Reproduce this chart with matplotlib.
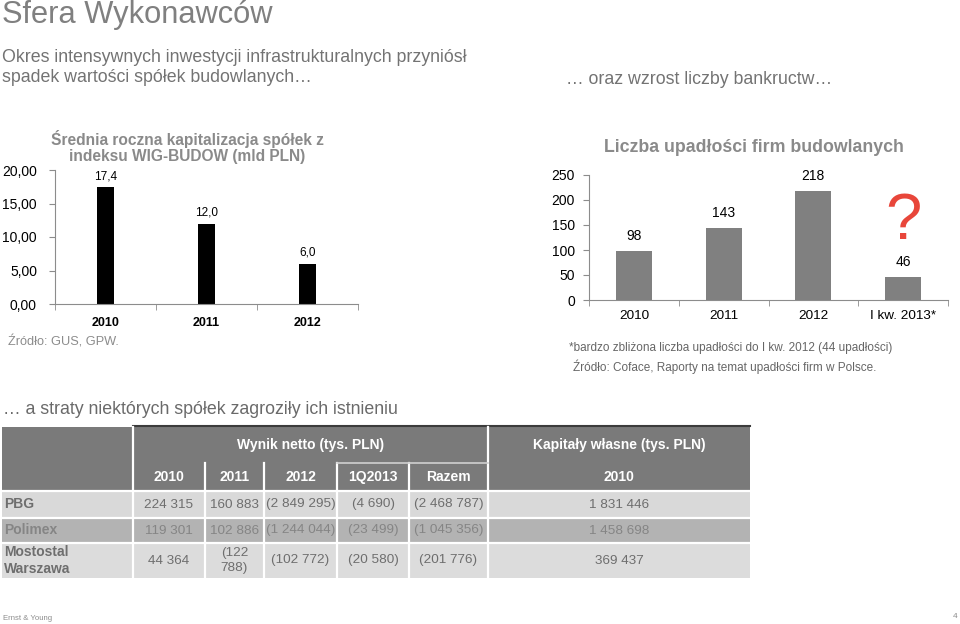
import matplotlib
matplotlib.use('Agg')
import matplotlib.pyplot as plt
from matplotlib.patches import Rectangle
from matplotlib.ticker import FuncFormatter

plt.rcParams['font.family'] = ['Liberation Sans', 'DejaVu Sans']

# --- data ---
cap_years = ['2010', '2011', '2012']
cap_values = [17.4, 12.0, 6.0]

bankr_periods = ['2010', '2011', '2012', 'I kw. 2013*']
bankr_values = [98, 143, 218, 46]

companies = ['PBG', 'Polimex', 'Mostostal\nWarszawa']
net_cols = ['2010', '2011', '2012', '1Q2013', 'Razem']
net_2010 = ['224 315', '119 301', '44 364']
net_2011 = ['160 883', '102 886', '(122\n788)']
net_2012 = ['(2 849 295)', '(1 244 044)', '(102 772)']
net_1q2013 = ['(4 690)', '(23 499)', '(20 580)']
net_total = ['(2 468 787)', '(1 045 356)', '(201 776)']
equity_2010 = ['1 831 446', '1 458 698', '369 437']

GRAY_TXT = '#737373'
TITLE_GRAY = '#8a8a8a'

fig = plt.figure(figsize=(9.6, 6.24), dpi=100)

# overlay in pixel coordinates for slide text and the table
bg = fig.add_axes([0, 0, 1, 1])
bg.set_xlim(0, 960)
bg.set_ylim(624, 0)
bg.axis('off')

bg.text(2, 15, 'Sfera Wykonawców', fontsize=22.2, color='#808080', va='center')
bg.text(2, 58, 'Okres intensywnych inwestycji infrastrukturalnych przyniósł',
        fontsize=12.8, color=GRAY_TXT, va='center')
bg.text(2, 77, 'spadek wartości spółek budowlanych…', fontsize=12.8,
        color=GRAY_TXT, va='center')
bg.text(566, 80, '… oraz wzrost liczby bankructw…', fontsize=12.8,
        color=GRAY_TXT, va='center')
bg.text(3, 410, '… a straty niektórych spółek zagroziły ich istnieniu',
        fontsize=12.8, color='#6a6a6a', va='center')

bg.text(187, 139, 'Średnia roczna kapitalizacja spółek z', fontsize=11.2,
        fontweight='bold', color=TITLE_GRAY, ha='center', va='center')
bg.text(187, 157, 'indeksu WIG-BUDOW (mld PLN)', fontsize=11.2,
        fontweight='bold', color=TITLE_GRAY, ha='center', va='center')
bg.text(8, 342, 'Źródło: GUS, GPW.', fontsize=9.2, color='#8c8c8c', va='center')

bg.text(754, 148, 'Liczba upadłości firm budowlanych', fontsize=12.8,
        fontweight='bold', color=TITLE_GRAY, ha='center', va='center')
bg.text(569, 348, '*bardzo zbliżona liczba upadłości do I kw. 2012 (44 upadłości)',
        fontsize=8.5, color='#666666', va='center')
bg.text(573, 367, 'Źródło: Coface, Raporty na temat upadłości firm w Polsce.',
        fontsize=8.5, color='#666666', va='center')

bg.text(3, 619, 'Ernst & Young', fontsize=5.6, color='#8c8c8c', va='center')
bg.text(957, 617, '4', fontsize=6, color='#8c8c8c', va='center', ha='right')

# --- table ---
col_edges = [2, 133, 205, 264, 337, 409, 488, 750]
row_edges = [491, 518, 543, 578]
row_colors = ['#d9d9d9', '#b3b3b3', '#dcdcdc']
hdr_top, hdr_mid = 427, 463

bg.add_patch(Rectangle((2, hdr_top), 748, row_edges[0] - hdr_top,
                       fc='#7a7a7a', ec='none'))
for i, c in enumerate(row_colors):
    bg.add_patch(Rectangle((2, row_edges[i]), 748,
                           row_edges[i + 1] - row_edges[i], fc=c, ec='none'))

bg.plot([133, 750], [426, 426], color='#3c3c3c', lw=1.5)
for x in (133, 488):
    bg.plot([x, x], [hdr_top, row_edges[-1]], color='white', lw=1.6)
for x in col_edges[2:6]:
    bg.plot([x, x], [hdr_mid, row_edges[-1]], color='white', lw=1.6)
bg.plot([337, 488], [hdr_mid, hdr_mid], color='#d0d0d0', lw=1.2)
for y in row_edges[:-1]:
    bg.plot([2, 750], [y, y], color='white', lw=1.6)

bg.text((133 + 488) / 2, 445, 'Wynik netto (tys. PLN)', fontsize=10,
        fontweight='bold', color='white', ha='center', va='center')
bg.text((488 + 750) / 2, 445, 'Kapitały własne (tys. PLN)', fontsize=10,
        fontweight='bold', color='white', ha='center', va='center')
for j, lab in enumerate(net_cols):
    bg.text((col_edges[j + 1] + col_edges[j + 2]) / 2, 477, lab, fontsize=10,
            fontweight='bold', color='white', ha='center', va='center')
bg.text((488 + 750) / 2, 477, '2010', fontsize=10, fontweight='bold',
        color='white', ha='center', va='center')

table_rows = list(zip(net_2010, net_2011, net_2012, net_1q2013, net_total,
                      equity_2010))
for i, (name, vals) in enumerate(zip(companies, table_rows)):
    yc = (row_edges[i] + row_edges[i + 1]) / 2
    txt_col = '#6e6e6e' if i != 1 else '#858585'
    bg.text(4, yc, name, fontsize=10, fontweight='bold', color=txt_col,
            va='center', linespacing=1.25)
    for j, v in enumerate(vals):
        xc = (col_edges[j + 1] + col_edges[j + 2]) / 2
        bg.text(xc, yc, v, fontsize=9.7, color=txt_col, ha='center',
                va='center', linespacing=1.3)

# --- left chart: capitalisation ---
ax1 = fig.add_axes([55 / 960, 320 / 624, 303 / 960, 134 / 624])
ax1.patch.set_alpha(0)
bars1 = ax1.bar(range(len(cap_years)), cap_values, width=0.16, color='black')
ax1.bar_label(bars1, labels=[f'{v:.1f}'.replace('.', ',') for v in cap_values],
              padding=3.5, fontsize=8.5)
ax1.set_xlim(-0.5, len(cap_years) - 0.5)
ax1.set_ylim(0, 20)
ax1.set_yticks([0, 5, 10, 15, 20])
ax1.yaxis.set_major_formatter(FuncFormatter(lambda v, p: f'{v:.2f}'.replace('.', ',')))
ax1.set_xticks(range(len(cap_years)))
ax1.set_xticklabels(cap_years, fontweight='bold', fontsize=9)
ax1.set_xticks([i + 0.5 for i in range(-1, len(cap_years))], minor=True)
ax1.tick_params(axis='x', which='major', length=0, pad=9)
ax1.tick_params(axis='x', which='minor', length=4, color='#8c8c8c')
ax1.tick_params(axis='y', length=4, color='#8c8c8c', labelsize=10, pad=9)
for s in ('top', 'right'):
    ax1.spines[s].set_visible(False)
for s in ('left', 'bottom'):
    ax1.spines[s].set_color('#8c8c8c')

# --- right chart: bankruptcies ---
ax2 = fig.add_axes([589 / 960, 324 / 624, 359 / 960, 125 / 624])
ax2.patch.set_alpha(0)
bars2 = ax2.bar(range(len(bankr_periods)), bankr_values, width=0.4,
                color='#808080')
ax2.bar_label(bars2, padding=6, fontsize=10)
ax2.set_xlim(-0.5, len(bankr_periods) - 0.5)
ax2.set_ylim(0, 250)
ax2.set_yticks(range(0, 251, 50))
ax2.set_xticks(range(len(bankr_periods)))
ax2.set_xticklabels(bankr_periods, fontsize=9.7)
ax2.set_xticks([i + 0.5 for i in range(-1, len(bankr_periods))], minor=True)
ax2.tick_params(axis='x', which='major', length=0, pad=7)
ax2.tick_params(axis='x', which='minor', length=4, color='#8c8c8c')
ax2.tick_params(axis='y', length=4, color='#8c8c8c', labelsize=10, pad=6)
for s in ('top', 'right'):
    ax2.spines[s].set_visible(False)
for s in ('left', 'bottom'):
    ax2.spines[s].set_color('#8c8c8c')
ax2.text(3, 122, '?', fontsize=47, color='#e8463a', ha='center', va='baseline')

fig.savefig('out.png', dpi=100)
